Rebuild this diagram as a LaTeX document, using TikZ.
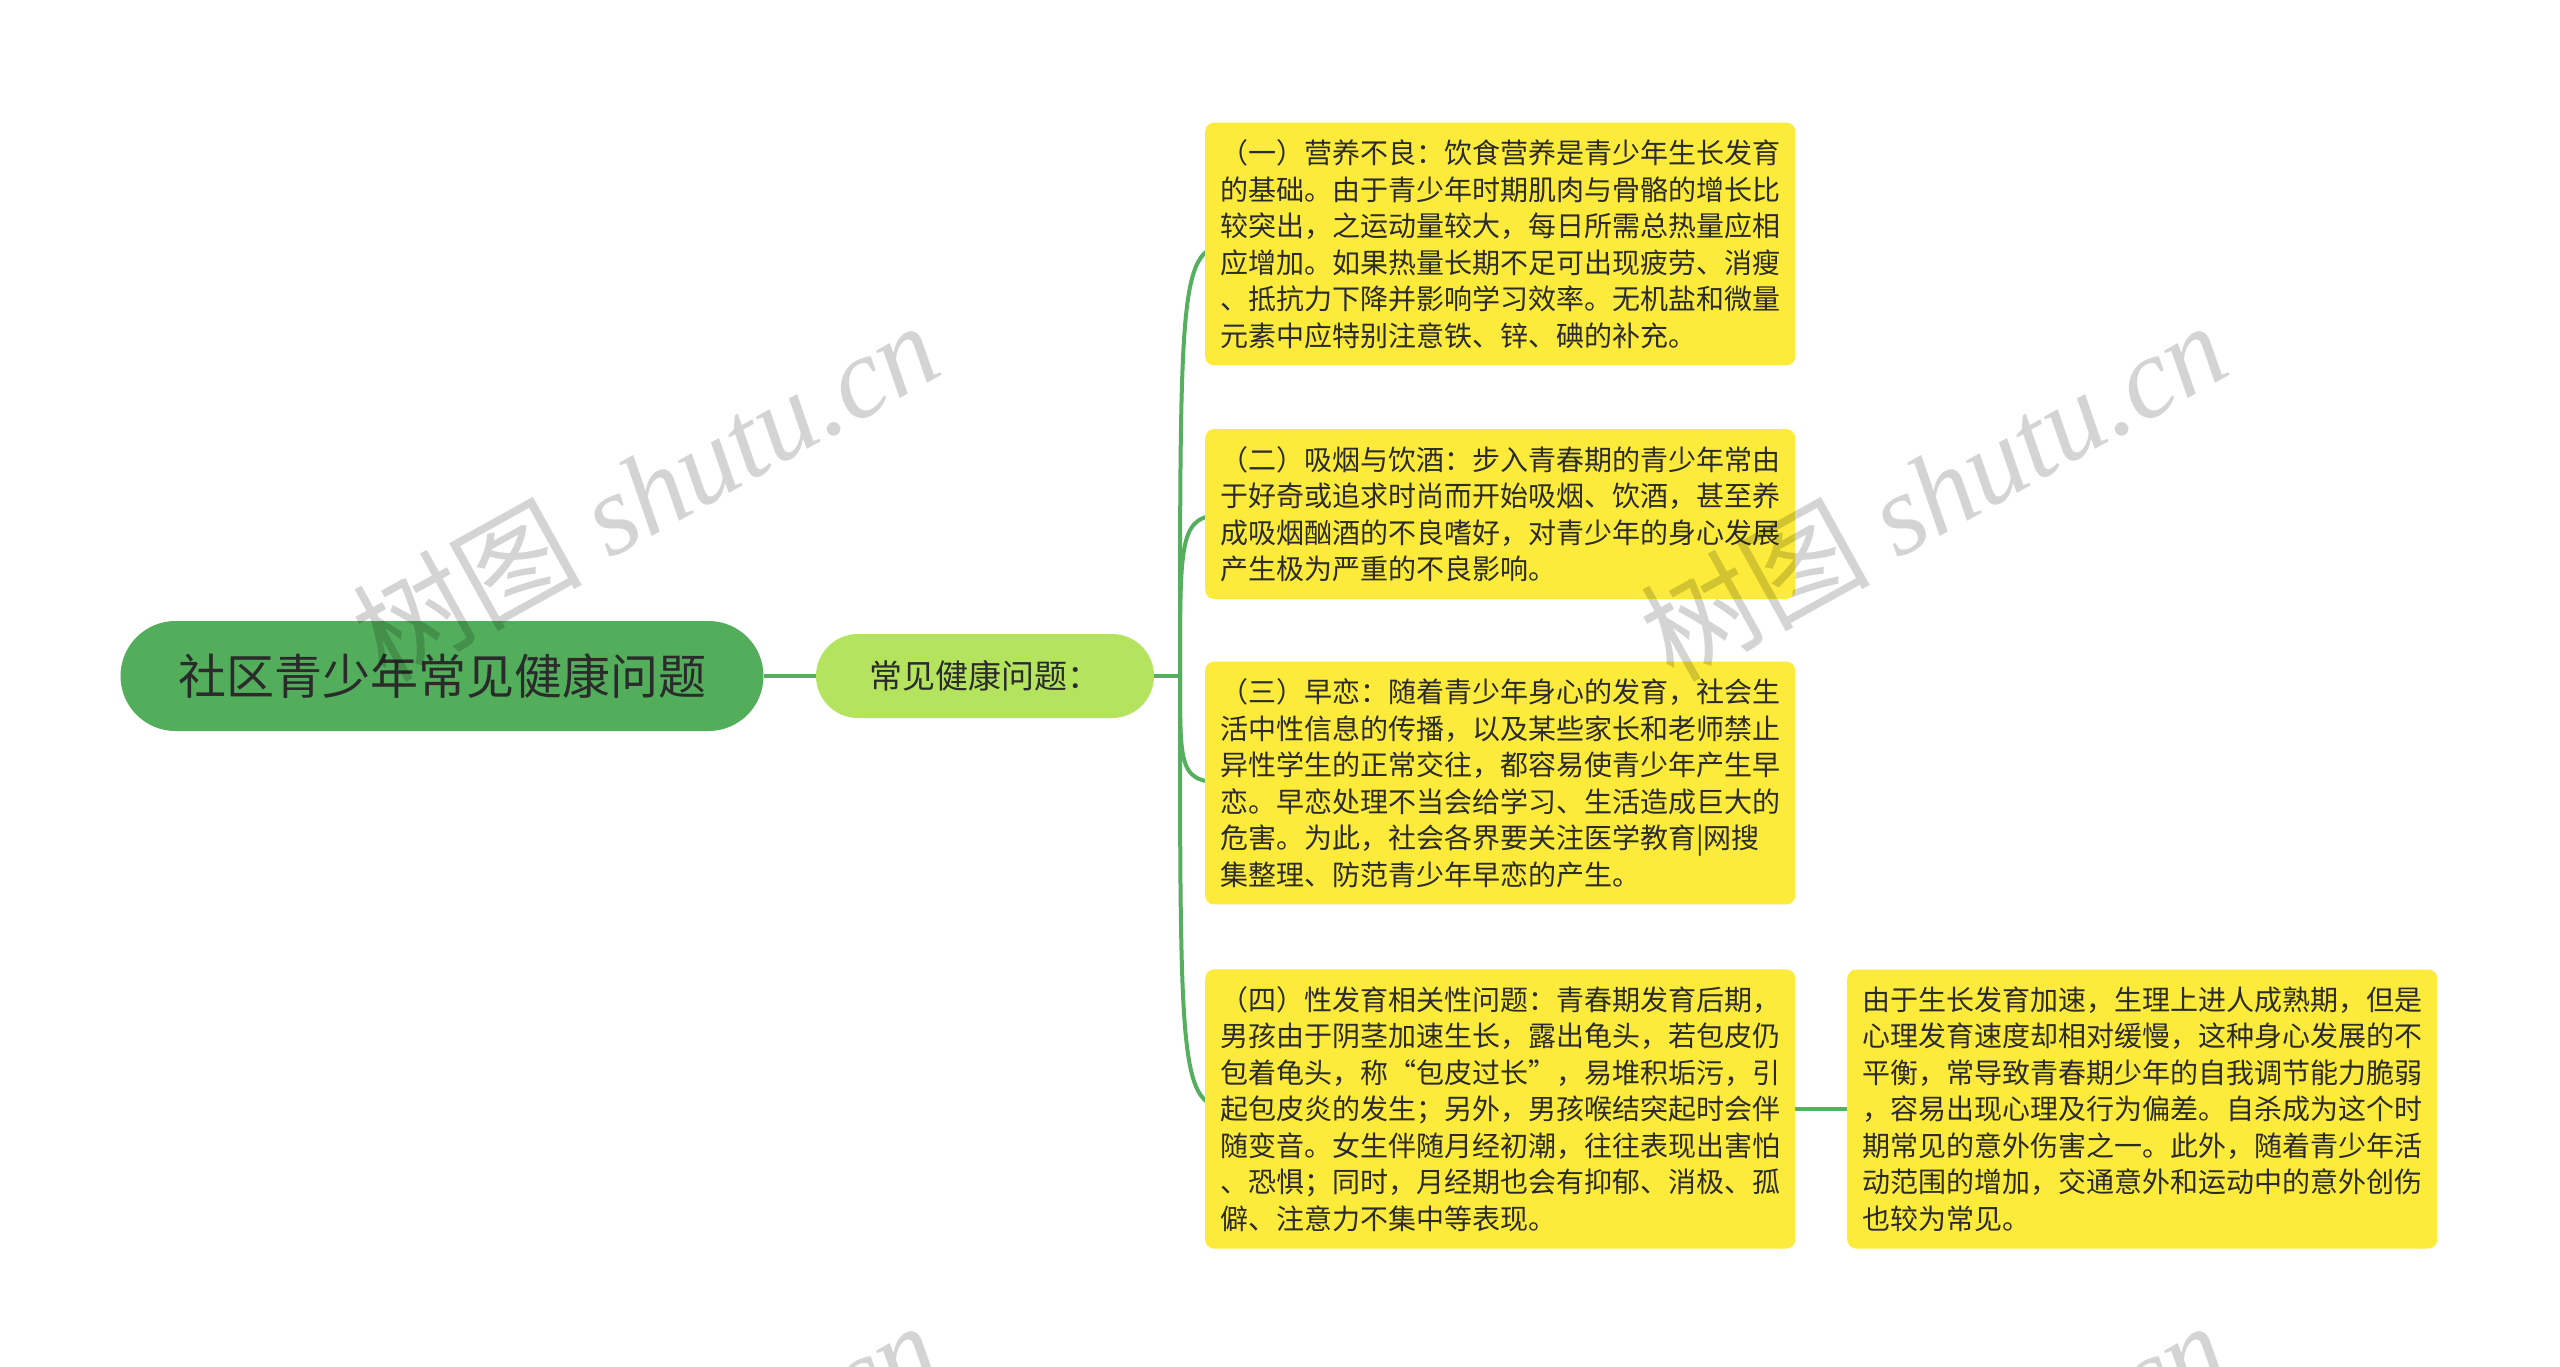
\documentclass[tikz,border=0pt]{standalone}
\usepackage{fontspec}
\setmainfont{Noto Sans CJK SC}
\newfontfamily\cjk{Noto Sans CJK SC}
\newfontfamily\wmserif{Liberation Serif}
\definecolor{rootgreen}{HTML}{52AE5B}
\definecolor{subgreen}{HTML}{B4E45E}
\definecolor{yel}{HTML}{FDEB3B}
\definecolor{lineg}{HTML}{55AF5E}
\definecolor{txt}{HTML}{2B2B2B}
\pgfdeclarelayer{back}
\pgfdeclarelayer{conn}
\pgfdeclarelayer{front}
\pgfsetlayers{back,conn,main,front}
\tikzset{
  rootnode/.style={rounded corners=55pt, fill=rootgreen, minimum width=643pt, minimum height=110pt, inner sep=0pt, font=\fontsize{48}{56}\selectfont, text=txt},
  subnode/.style={rounded corners=42pt, fill=subgreen, minimum width=338pt, minimum height=84pt, inner sep=0pt, font=\fontsize{33}{40}\selectfont, text=txt},
  itembox/.style={fill=yel, rounded corners=9pt, align=left, inner xsep=15pt, inner ysep=17pt, anchor=west, font=\fontsize{28}{36.5}\selectfont, text=txt},
  conn/.style={draw=lineg, line width=4pt},
  wm/.style={text=black, text opacity=0.17, font=\fontsize{115}{120}\selectfont, rotate=29, inner sep=0pt}
}
\begin{document}
\begin{tikzpicture}[x=1pt,y=-1pt]
\useasboundingbox (0,0) rectangle (2560,1367);
\begin{pgfonlayer}{back}
\fill[white] (0,0) rectangle (2560,1367);
\end{pgfonlayer}

\node[rootnode] (root) at (442,676) {社区青少年常见健康问题};
\node[subnode] (sub) at (985,676) {常见健康问题：};

\node[itembox] (b1) at (1205,244) {（一）营养不良：饮食营养是青少年生长发育\\的基础。由于青少年时期肌肉与骨骼的增长比\\较突出，之运动量较大，每日所需总热量应相\\应增加。如果热量长期不足可出现疲劳、消瘦\\、抵抗力下降并影响学习效率。无机盐和微量\\元素中应特别注意铁、锌、碘的补充。};
\node[itembox] (b2) at (1205,514) {（二）吸烟与饮酒：步入青春期的青少年常由\\于好奇或追求时尚而开始吸烟、饮酒，甚至养\\成吸烟酗酒的不良嗜好，对青少年的身心发展\\产生极为严重的不良影响。};
\node[itembox] (b3) at (1205,783) {（三）早恋：随着青少年身心的发育，社会生\\活中性信息的传播，以及某些家长和老师禁止\\异性学生的正常交往，都容易使青少年产生早\\恋。早恋处理不当会给学习、生活造成巨大的\\危害。为此，社会各界要关注医学教育|网搜\\集整理、防范青少年早恋的产生。};
\node[itembox] (b4) at (1205,1109) {（四）性发育相关性问题：青春期发育后期，\\男孩由于阴茎加速生长，露出龟头，若包皮仍\\包着龟头，称“包皮过长”，易堆积垢污，引\\起包皮炎的发生；另外，男孩喉结突起时会伴\\随变音。女生伴随月经初潮，往往表现出害怕\\、恐惧；同时，月经期也会有抑郁、消极、孤\\僻、注意力不集中等表现。};
\node[itembox] (b5) at (1847,1109) {由于生长发育加速，生理上进人成熟期，但是\\心理发育速度却相对缓慢，这种身心发展的不\\平衡，常导致青春期少年的自我调节能力脆弱\\，容易出现心理及行为偏差。自杀成为这个时\\期常见的意外伤害之一。此外，随着青少年活\\动范围的增加，交通意外和运动中的意外创伤\\也较为常见。};

\coordinate (hub) at (1180,676);
\begin{pgfonlayer}{conn}
\draw[conn] (root.east) -- (sub.west);
\draw[conn] (sub.east) -- (hub);
\draw[conn] (hub) .. controls (hub |- b1.west) and (hub |- b1.west) .. ([xshift=40pt]b1.west);
\draw[conn] (hub) .. controls (hub |- b2.west) and (hub |- b2.west) .. ([xshift=40pt]b2.west);
\draw[conn] (hub) .. controls (hub |- b3.west) and (hub |- b3.west) .. ([xshift=40pt]b3.west);
\draw[conn] (hub) .. controls (hub |- b4.west) and (hub |- b4.west) .. ([xshift=40pt]b4.west);
\draw[conn] (b4.east) -- (b5.west);
\end{pgfonlayer}

\begin{pgfonlayer}{front}
\node[wm] (wm1) at (645,490) {\cjk 树图\ {\wmserif\itshape shutu.cn}};
\node[wm] (wm2) at (1933,490) {\cjk 树图\ {\wmserif\itshape shutu.cn}};
\node[wm] (wm3) at (645,1490) {\cjk 树图\ {\wmserif\itshape shutu.cn}};
\node[wm] (wm4) at (1933,1490) {\cjk 树图\ {\wmserif\itshape shutu.cn}};
\end{pgfonlayer}
\end{tikzpicture}
\end{document}
